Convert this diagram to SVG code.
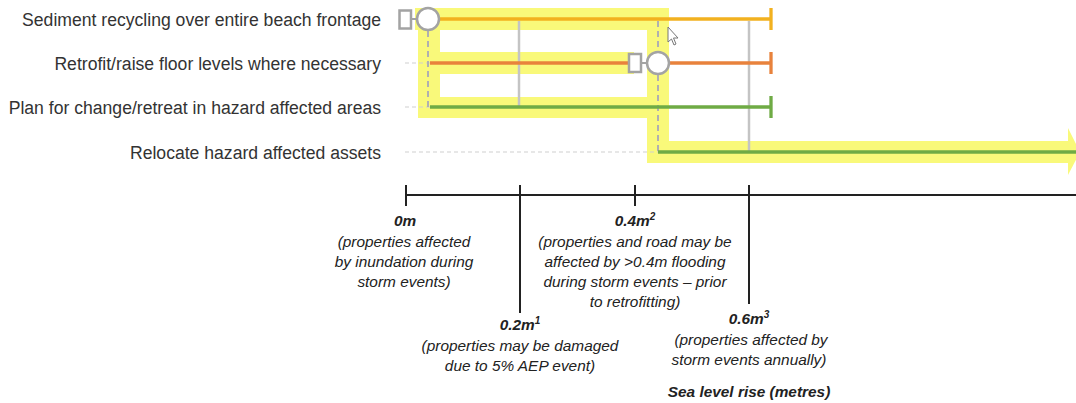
<svg xmlns="http://www.w3.org/2000/svg" width="1076" height="403" viewBox="0 0 1076 403">
<style>
.lbl{font-family:"Liberation Sans",Arial,sans-serif;font-size:17.6px;fill:#333;text-anchor:end}
.ax{font-family:"Liberation Sans",Arial,sans-serif;font-size:15.4px;fill:#222;text-anchor:middle;font-style:italic}
.axb{font-weight:bold}
.sup{font-size:10px}
.hl{fill:#f9f97a}
.bar{stroke-width:3.3;fill:none}
.amber{stroke:#f2b11f}
.orange{stroke:#e8823c}
.green{stroke:#6fab45}
.grey{stroke:#c4c4c4;stroke-width:2.5;fill:none}
.dash{stroke:#b0b0b0;stroke-width:2;stroke-dasharray:6 4;fill:none}
.lead{stroke:#cfcfcf;stroke-width:1;stroke-dasharray:4 3;fill:none}
.node{fill:#fff;stroke:#a3a3a3;stroke-width:2.5}
.axis{stroke:#222;stroke-width:2;fill:none}
</style>
<g id="highlight">
<rect class="hl" x="415" y="8" width="254" height="22"/>
<rect class="hl" x="418" y="30" width="22" height="88"/>
<rect class="hl" x="440" y="52" width="194" height="22"/>
<rect class="hl" x="440" y="97" width="207" height="21"/>
<rect class="hl" x="647" y="30" width="22" height="111"/>
<rect class="hl" x="647" y="141" width="421" height="22"/>
<polygon class="hl" points="1068,128 1080,152 1068,175"/>
</g>
<g id="connectors">
<line class="lead" x1="405" y1="63" x2="430" y2="63"/>
<line class="lead" x1="405" y1="107" x2="430" y2="107"/>
<line class="lead" x1="405" y1="152" x2="658" y2="152"/>
<line class="grey" x1="519" y1="21" x2="519" y2="107"/>
<line class="grey" x1="749" y1="21" x2="749" y2="152"/>
<line class="dash" x1="428" y1="31" x2="428" y2="107"/>
<line class="dash" x1="658" y1="21" x2="658" y2="52"/>
<line class="dash" x1="658" y1="75" x2="658" y2="152"/>
</g>
<g id="row-sediment">
<text class="lbl" x="381" y="26">Sediment recycling over entire beach frontage</text>
<line class="bar amber" x1="439" y1="19" x2="771" y2="19"/>
<line class="bar amber" x1="771" y1="8" x2="771" y2="30"/>
<line stroke="#a3a3a3" stroke-width="2" x1="411" y1="19" x2="417" y2="19"/>
<rect class="node" x="399.5" y="10.5" width="11.5" height="18"/>
<circle class="node" cx="428" cy="19" r="11"/>
</g>
<g id="row-retrofit">
<text class="lbl" x="381" y="70">Retrofit/raise floor levels where necessary</text>
<line class="bar orange" x1="430" y1="63" x2="628" y2="63"/>
<line class="bar orange" x1="669" y1="63" x2="771" y2="63"/>
<line class="bar orange" x1="771" y1="52" x2="771" y2="74"/>
<line stroke="#a3a3a3" stroke-width="2" x1="641" y1="63" x2="647" y2="63"/>
<rect class="node" x="629" y="54" width="12" height="18"/>
<circle class="node" cx="658" cy="63" r="11"/>
</g>
<g id="row-plan">
<text class="lbl" x="381" y="114">Plan for change/retreat in hazard affected areas</text>
<line class="bar green" x1="430" y1="107" x2="771" y2="107"/>
<line class="bar green" x1="771" y1="96" x2="771" y2="118"/>
</g>
<g id="row-relocate">
<text class="lbl" x="381" y="159">Relocate hazard affected assets</text>
<line class="bar green" x1="658" y1="152" x2="1076" y2="152"/>
</g>
<g id="cursor">
<polygon points="668,27 668,42 671.5,39 674,45 676,44 673.5,38 678,38" fill="#fff" stroke="#777" stroke-width="1"/>
</g>
<g id="axis">
<line class="axis" x1="405" y1="195" x2="1076" y2="195"/>
<line class="axis" x1="406" y1="185" x2="406" y2="206"/>
<line class="axis" x1="520" y1="185" x2="520" y2="313"/>
<line class="axis" x1="635" y1="185" x2="635" y2="206"/>
<line class="axis" x1="749" y1="185" x2="749" y2="304"/>
</g>
<g id="tick-0m">
<text class="ax axb" x="405" y="226">0m</text>
<text class="ax" x="404" y="247">(properties affected</text>
<text class="ax" x="404" y="267">by inundation during</text>
<text class="ax" x="404" y="287">storm events)</text>
</g>
<g id="tick-02m">
<text class="ax axb" x="520" y="330">0.2m<tspan class="sup" dy="-6">1</tspan></text>
<text class="ax" x="520" y="351">(properties may be damaged</text>
<text class="ax" x="520" y="371">due to 5% AEP event)</text>
</g>
<g id="tick-04m">
<text class="ax axb" x="635" y="226">0.4m<tspan class="sup" dy="-6">2</tspan></text>
<text class="ax" x="635" y="247">(properties and road may be</text>
<text class="ax" x="635" y="267">affected by &gt;0.4m flooding</text>
<text class="ax" x="635" y="287">during storm events – prior</text>
<text class="ax" x="635" y="307">to retrofitting)</text>
</g>
<g id="tick-06m">
<text class="ax axb" x="749" y="324">0.6m<tspan class="sup" dy="-6">3</tspan></text>
<text class="ax" x="751" y="345">(properties affected by</text>
<text class="ax" x="749" y="365">storm events annually)</text>
<text class="ax axb" x="749" y="397">Sea level rise (metres)</text>
</g>
</svg>
